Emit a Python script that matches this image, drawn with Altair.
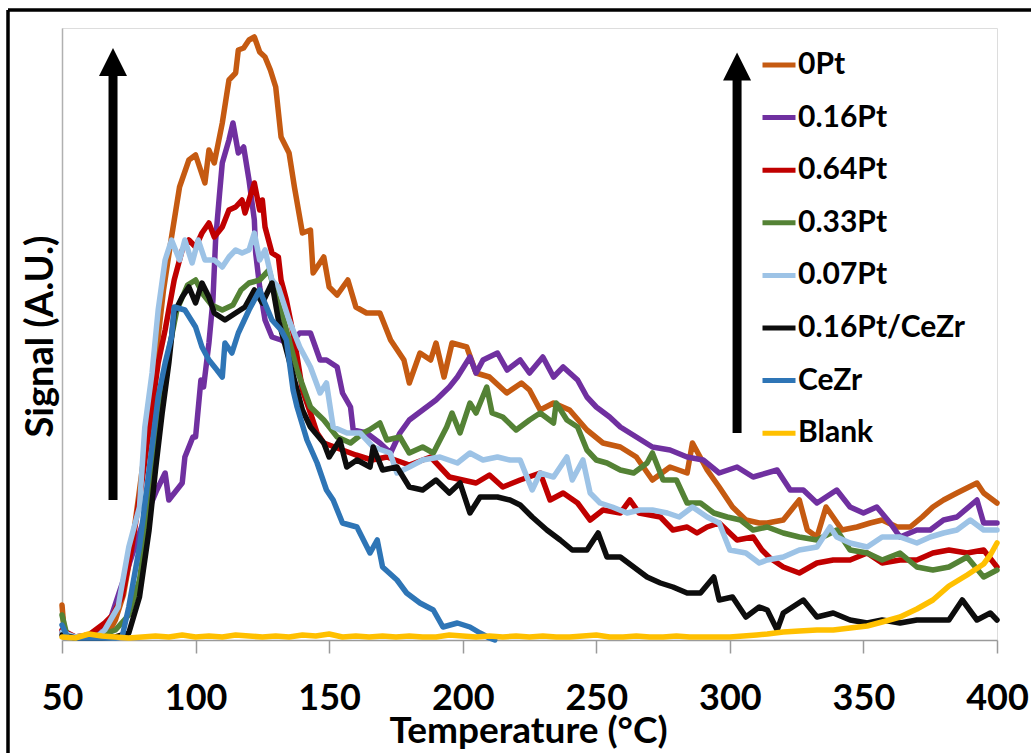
import altair as alt
import pandas as pd

SERIES = ["0Pt", "0.16Pt", "0.64Pt", "0.33Pt", "0.07Pt", "0.16Pt/CeZr", "CeZr", "Blank"]
COLORS = ["#C55A11", "#7030A0", "#C00000", "#548235", "#9DC3E6", "#0D0D0D", "#2E75B6", "#FFC000"]

t_0pt = [50, 51, 55, 60, 65, 68, 70, 73, 76, 79, 82, 85, 88, 91, 94, 97.5, 100, 103.5, 105, 107, 110, 112.5, 115, 116, 118, 120, 122, 124, 126, 128, 130, 132, 135, 137, 140, 143, 144, 148, 150, 153, 157, 160, 164, 169, 173, 178, 180, 184, 188, 190, 193, 196, 201.5, 205, 210, 216.5, 222, 225, 229, 234, 240, 246.5, 252.5, 259, 265, 271, 277.6, 284, 286, 291.5, 296, 301, 306, 311, 314, 320, 326, 329, 332.6, 336, 342, 347.6, 352.5, 357, 362.6, 367.5, 372, 376, 380, 385, 392.5, 395, 400]
v_0pt = [35, 3, 3, 5, 5, 10, 20, 45, 90, 150, 210, 280, 350, 403, 453, 480, 485, 457, 490, 477, 517, 560, 567, 590, 592, 600, 603, 588, 583, 570, 553, 503, 487, 453, 407, 410, 367, 383, 353, 345, 360, 333, 327, 327, 300, 280, 257, 287, 280, 297, 263, 297, 293, 267, 263, 247, 257, 250, 230, 237, 230, 210, 197, 193, 183, 160, 173, 167, 197, 170, 153, 133, 120, 117, 117, 120, 140, 110, 103, 133, 110, 113, 117, 120, 113, 113, 123, 133, 140, 147, 157, 147, 137]

t_016pt = [50, 55, 60, 65, 68, 71.7, 75, 80, 85.5, 88.6, 90, 95, 96, 99, 100, 102, 103, 105, 106.5, 107.5, 109, 110, 112.5, 114, 116, 118, 120, 122, 122.5, 124, 126, 128.6, 132, 135, 139, 143, 146.6, 149, 153, 155, 158, 159, 164, 169, 173, 176.5, 180, 185, 190, 195, 198, 202.7, 205, 207.6, 213, 216.6, 221.5, 225, 230, 234, 237.6, 243, 246.5, 250, 255, 259, 265, 271, 277.6, 284, 290, 296, 302.7, 308.7, 317.7, 322.6, 327.5, 332.6, 340, 345, 350, 355, 360, 363.7, 370, 375, 380, 385, 392.5, 395, 400]
v_016pt = [8, 3, 3, 8, 20, 50, 75, 115, 150, 167, 140, 157, 183, 203, 203, 260, 253, 297, 340, 400, 447, 477, 500, 517, 487, 493, 460, 420, 387, 353, 320, 303, 300, 295, 307, 307, 280, 280, 273, 247, 233, 210, 207, 197, 187, 207, 220, 230, 240, 253, 263, 283, 267, 280, 287, 270, 280, 267, 283, 263, 273, 260, 243, 233, 223, 213, 203, 193, 190, 183, 180, 167, 173, 163, 170, 150, 150, 137, 150, 133, 127, 133, 117, 103, 110, 110, 120, 123, 140, 117, 117]

t_064pt = [50, 55, 60, 66, 69, 72.5, 76, 80, 82.6, 86, 88.6, 92, 95, 97.5, 100, 102.4, 105, 107, 110, 112.5, 115, 117.4, 118.5, 122, 124, 125, 126, 128.6, 131, 132, 134, 137, 140, 143, 145.5, 148, 155, 160, 166, 171.6, 180, 188, 195, 200, 205, 210, 215, 221.5, 229, 232.7, 237.6, 243, 247.7, 252.5, 259, 262.6, 266, 274, 278.7, 284, 287.7, 291.5, 296, 302.7, 308.7, 312, 315, 320, 326, 332.6, 338.7, 345, 351.4, 357, 363.7, 370, 376, 382, 388.8, 395, 400]
v_064pt = [10, 3, 5, 17, 25, 43, 90, 160, 210, 277, 310, 360, 390, 400, 393, 407, 417, 403, 413, 430, 433, 440, 427, 457, 430, 440, 413, 387, 383, 360, 340, 300, 250, 227, 207, 197, 190, 185, 180, 183, 175, 183, 163, 160, 157, 165, 153, 160, 167, 140, 147, 137, 120, 130, 127, 140, 127, 123, 110, 113, 107, 113, 117, 100, 103, 90, 82, 73, 67, 77, 80, 80, 87, 77, 80, 80, 87, 90, 87, 90, 73]

t_033pt = [50, 52, 55, 60, 65, 70, 75, 79, 82.6, 85, 87.5, 90, 93, 97, 100, 103, 106, 110, 114, 117, 120, 124, 127.5, 130, 133, 135, 138, 143, 148, 153, 158, 162.7, 165, 169, 171.6, 176.5, 180, 185, 189, 194, 196, 199, 202.7, 205, 209, 211, 215, 220, 225, 229, 234, 235, 239, 243, 246.5, 250, 254, 259, 264, 269, 271, 275, 280, 284, 289, 294, 299, 304, 308.7, 314, 320, 326, 332.6, 340, 345, 351.4, 357, 363.7, 370, 376, 382, 388.8, 395, 400]
v_033pt = [25, 3, 3, 3, 5, 10, 25, 60, 130, 190, 245, 290, 330, 355, 360, 345, 335, 330, 335, 350, 357, 360, 370, 345, 320, 300, 270, 233, 220, 203, 197, 207, 210, 217, 200, 203, 187, 193, 187, 213, 227, 207, 237, 227, 253, 227, 223, 210, 220, 227, 217, 237, 220, 213, 190, 180, 177, 170, 167, 177, 187, 160, 160, 137, 137, 127, 123, 120, 110, 113, 107, 103, 100, 110, 90, 87, 80, 87, 73, 70, 73, 83, 63, 70]

t_007pt = [50, 55, 60, 63, 66, 71, 75, 79, 81, 83.7, 86, 88.6, 91, 94, 96, 98.7, 101, 103.5, 107, 110, 112.5, 115, 117.4, 120, 122, 124, 126, 128.6, 131, 135, 139, 143, 146.6, 149, 151.5, 156.7, 161.6, 166.5, 172.8, 175.4, 180, 185, 191.5, 198, 202.7, 207.6, 213, 217.7, 221.5, 226, 229, 234, 239, 241, 245, 247.7, 251.4, 256, 261.5, 266.4, 271, 276.6, 281, 286, 291.5, 296, 300, 306, 311, 314, 320, 326, 332.6, 337.5, 340, 345, 351.4, 357, 363.7, 370, 375, 380, 385, 390, 395, 400]
v_007pt = [8, 3, 5, 3, 10, 33, 93, 133, 213, 267, 330, 380, 400, 380, 400, 377, 400, 380, 380, 373, 383, 390, 387, 390, 407, 380, 390, 360, 353, 320, 293, 273, 247, 257, 213, 207, 207, 193, 187, 167, 173, 180, 183, 177, 187, 180, 183, 180, 180, 150, 167, 163, 183, 160, 180, 147, 137, 133, 127, 130, 130, 127, 123, 133, 123, 117, 90, 87, 77, 80, 83, 90, 93, 113, 103, 97, 93, 103, 103, 97, 103, 107, 110, 120, 110, 110]

t_016cz = [50, 55, 60, 65, 70, 75, 79, 82.6, 85, 87.5, 90, 92, 95, 97.5, 100, 102.4, 105, 107, 111, 115, 118.5, 122, 125, 128.6, 131, 134, 137, 140, 143, 148, 150, 154, 156.6, 160.4, 165.3, 166.5, 170, 175.4, 180, 185, 190, 195, 199, 202.7, 206.5, 213, 217.7, 221.5, 226, 231.5, 236.5, 241, 246.5, 250.7, 254, 259, 264, 269, 274, 278.7, 284, 289, 294, 296, 301, 306, 311, 314, 317.7, 320, 327.5, 332.6, 338.7, 345, 351.4, 357, 363.7, 370, 376, 382, 387, 392.5, 397.5, 400]
v_016cz = [5, 2, 2, 2, 3, 7, 43, 110, 170, 227, 277, 327, 343, 353, 337, 357, 343, 327, 320, 327, 333, 350, 337, 357, 320, 290, 260, 230, 213, 197, 183, 200, 173, 180, 173, 193, 170, 173, 153, 150, 160, 147, 157, 127, 143, 143, 140, 135, 123, 110, 100, 90, 90, 107, 83, 83, 73, 63, 57, 53, 47, 47, 63, 40, 43, 23, 33, 30, 10, 27, 40, 23, 27, 20, 17, 20, 17, 20, 20, 20, 40, 20, 27, 20]

t_cezr = [50, 52, 55, 60, 65, 70, 72.5, 75, 79, 82.6, 86, 88.6, 91, 92, 96, 100, 102.4, 105, 108, 110, 111, 113.6, 116, 120, 124, 125, 128.6, 132, 134, 136.5, 138, 141.7, 145.5, 149, 151.5, 155, 160.4, 165.3, 168, 170, 175.4, 179, 184, 189, 192.6, 198, 202.7, 206.5, 210, 212]
v_cezr = [15, 3, 2, 2, 2, 2, 3, 33, 93, 170, 243, 277, 303, 333, 330, 313, 293, 280, 270, 263, 297, 287, 307, 330, 350, 343, 320, 310, 300, 250, 233, 200, 177, 150, 140, 117, 113, 87, 100, 73, 60, 47, 37, 30, 13, 17, 13, 7, 2, 0]

t_blank = [50, 55, 60, 65, 70, 75, 80, 85, 90, 95, 100, 105, 110, 115, 120, 125, 130, 135, 140, 145, 150, 155, 160, 165, 170, 175, 180, 185, 190, 195, 200, 205, 210, 215, 220, 225, 230, 235, 240, 245, 250, 255, 260, 265, 270, 275, 280, 285, 290, 295, 300, 305, 310, 314, 320, 326, 332.6, 338.7, 345, 351.4, 357, 363.7, 370, 376, 382, 388.8, 395, 397.5, 400]
v_blank = [3, 2, 6, 4, 3, 2, 3, 4, 3, 5, 3, 4, 3, 5, 4, 3, 4, 3, 5, 4, 6, 3, 4, 3, 4, 3, 4, 3, 3, 5, 4, 3, 4, 3, 4, 3, 4, 3, 3, 4, 5, 3, 3, 4, 3, 3, 4, 3, 3, 3, 3, 4, 5, 6, 8, 9, 10, 10, 12, 14, 18, 23, 31, 40, 54, 65, 76, 85, 97]

X_TICKS = [50, 100, 150, 200, 250, 300, 350, 400]

# arrows (temperature position, shaft bottom, head base, head centre)
arrow_t = [69.1, 302.7]
arrow_bottom = [140, 207]
arrow_head_base = [564, 560]
arrow_head_mid = [578, 573.5]

all_t = [t_0pt, t_016pt, t_064pt, t_033pt, t_007pt, t_016cz, t_cezr, t_blank]
all_v = [v_0pt, v_016pt, v_064pt, v_033pt, v_007pt, v_016cz, v_cezr, v_blank]

rows = []
for name, ts, vs in zip(SERIES, all_t, all_v):
    for t, v in zip(ts, vs):
        rows.append({"T": t, "v": v, "series": name})
df = pd.DataFrame(rows)

arrows = pd.DataFrame({"T": arrow_t, "bottom": arrow_bottom, "hb": arrow_head_base, "hm": arrow_head_mid})

xscale = alt.Scale(domain=[50, 400], nice=False, zero=False)
yscale = alt.Scale(domain=[0, 612], nice=False)

color = alt.Color(
    "series:N",
    scale=alt.Scale(domain=SERIES, range=COLORS),
    sort=SERIES,
    legend=alt.Legend(
        title=None, orient="none", legendX=698, legendY=18, direction="vertical",
        symbolType="stroke", symbolStrokeWidth=5, symbolSize=1089,
        labelFont="Lato", labelFontWeight="bold", labelFontSize=30, labelColor="black",
        labelLimit=400, labelOffset=0, rowPadding=18.6, padding=0,
    ),
)

xax = alt.X(
    "T:Q", scale=xscale,
    axis=alt.Axis(
        values=X_TICKS, title="Temperature (°C)", grid=False,
        domainColor="#9a9a9a", domainWidth=1.5, tickColor="#9a9a9a", tickWidth=1.5, tickSize=13,
        labelFont="Lato", labelFontWeight="bold", labelFontSize=36, labelColor="black",
        labelBaseline="alphabetic", labelPadding=56, labelFlush=False, labelOverlap=False,
        titleFont="Lato", titleFontWeight="bold", titleFontSize=37, titleColor="black",
        titleX=466, titleY=102, titleBaseline="alphabetic", titleAlign="center",
    ),
)
yax = alt.Y(
    "v:Q", scale=yscale,
    axis=alt.Axis(
        title="Signal (A.U.)", grid=False, labels=False, ticks=False,
        domainColor="#b0b0b0", domainWidth=1.5,
        titleFont="Lato", titleFontWeight="bold", titleFontSize=38, titleColor="black",
        titleX=-10, titleY=308, titleBaseline="alphabetic", titleAlign="center", titleAngle=-90,
    ),
)

base = alt.Chart(df).mark_line(strokeWidth=5.5, strokeJoin="round", strokeCap="round").encode(
    x=xax, y=yax, color=color
)
lines = [base.transform_filter(alt.datum.series == s) for s in SERIES]

shaft = alt.Chart(arrows).mark_rule(color="black", strokeWidth=9).encode(
    x=alt.X("T:Q", scale=xscale), y=alt.Y("bottom:Q", scale=yscale), y2="hb:Q"
)
head = alt.Chart(arrows).mark_point(
    shape="M-1,1L1,1L0,-1Z", filled=True, color="black", opacity=1, size=784
).encode(x=alt.X("T:Q", scale=xscale), y=alt.Y("hm:Q", scale=yscale))

frame_top = alt.Chart(arrows).mark_rule(color="black", strokeWidth=3).encode(
    x=alt.value(-54), x2=alt.value(969), y=alt.value(-18)
)
frame_left = alt.Chart(arrows).mark_rule(color="black", strokeWidth=3).encode(
    x=alt.value(-54), y=alt.value(-18), y2=alt.value(725)
)

chart = alt.layer(*lines, shaft, head, frame_top, frame_left).properties(
    width=935, height=612,
    padding={"left": 62, "top": 28, "right": 34, "bottom": 113},
    autosize=alt.AutoSizeParams(type="none"),
    background="white",
).configure_view(stroke=None).configure(font="Lato")

chart.save("out.html", embed_options={"renderer": "svg", "actions": False})
